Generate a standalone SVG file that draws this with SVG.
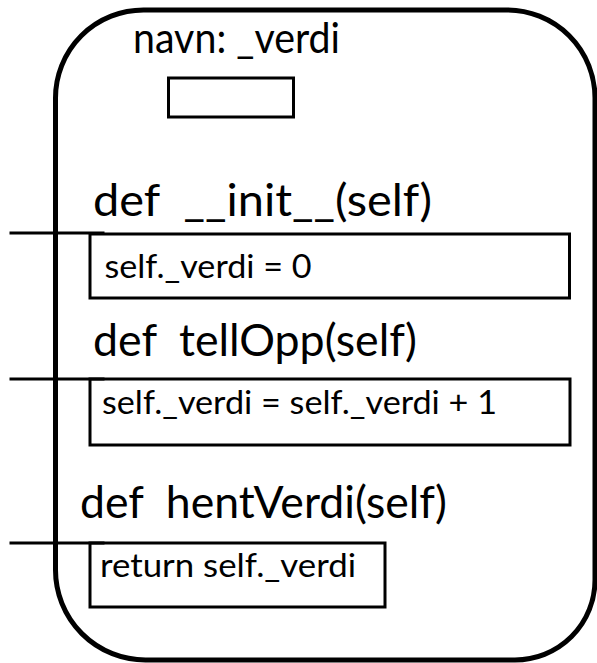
<svg xmlns="http://www.w3.org/2000/svg" width="597" height="663" viewBox="0 0 597 663">
  <style>
    .frame { fill: none; stroke: #000; stroke-width: 5; }
    .box { fill: none; stroke: #000; stroke-width: 3; }
    .link { stroke: #000; stroke-width: 3; fill: none; }
    text { font-family: "Lato", "Liberation Sans", sans-serif; fill: #000; white-space: pre; }
    .title { font-size: 43px; }
    .head { font-size: 45px; }
    .code { font-size: 33px; }
  </style>
  <rect width="597" height="663" fill="#fff"/>

  <!-- object outline -->
  <g id="object">
    <path class="frame" d="M 55.5 98 A 88 88 0 0 1 143.5 10 L 507 10 A 88 88 0 0 1 595 98 L 595 580 A 80 80 0 0 1 515 660 L 145.5 660 A 90 90 0 0 1 55.5 570 Z"/>
  </g>

  <!-- attribute -->
  <g id="attr-verdi">
    <text class="title" x="133" y="53" textLength="207" lengthAdjust="spacingAndGlyphs">navn: _verdi</text>
    <rect class="box" x="168.5" y="78" width="125" height="39"/>
  </g>

  <!-- methods -->
  <g id="method-init">
    <text class="head" x="93" y="216" textLength="339" lengthAdjust="spacingAndGlyphs">def  __init__(self)</text>
    <rect class="box" x="90" y="234" width="479.5" height="64"/>
    <text class="code" x="104.5" y="278" textLength="207" lengthAdjust="spacingAndGlyphs">self._verdi = 0</text>
  </g>

  <g id="method-tellOpp">
    <text class="head" x="93" y="356" textLength="324" lengthAdjust="spacingAndGlyphs">def  tellOpp(self)</text>
    <rect class="box" x="90" y="379" width="480" height="66"/>
    <text class="code" x="102" y="414" textLength="395" lengthAdjust="spacingAndGlyphs">self._verdi = self._verdi + 1</text>
  </g>

  <g id="method-hentVerdi">
    <text class="head" x="80" y="518" textLength="367" lengthAdjust="spacingAndGlyphs">def  hentVerdi(self)</text>
    <rect class="box" x="90" y="543" width="295" height="64"/>
    <text class="code" x="100" y="577" textLength="256" lengthAdjust="spacingAndGlyphs">return self._verdi</text>
  </g>

  <!-- entry lines into each method -->
  <g id="connectors">
    <line class="link" x1="9.5" y1="233" x2="104.5" y2="233"/>
    <line class="link" x1="9.5" y1="379" x2="104.5" y2="379"/>
    <line class="link" x1="9.5" y1="543" x2="104.5" y2="543"/>
  </g>
</svg>
